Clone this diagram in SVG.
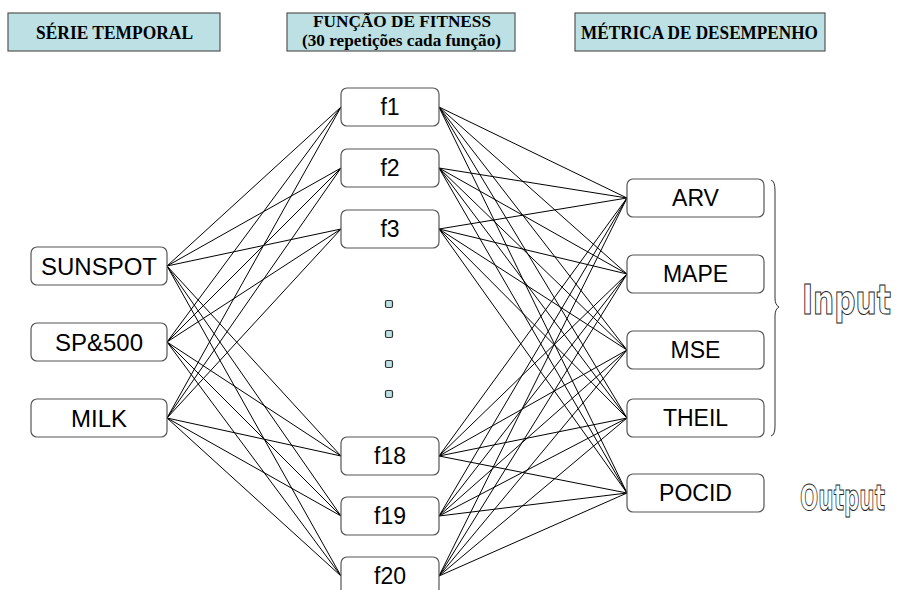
<svg xmlns="http://www.w3.org/2000/svg" width="898" height="590" viewBox="0 0 898 590">
<style>
.hdr{fill:#bce0e4;stroke:#555;stroke-width:1.2}
.ht{font-family:"Liberation Serif","Times New Roman",serif;font-weight:bold;font-size:18px;fill:#000}
.ht2{font-size:16.5px}
.node{fill:#fff;stroke:#555;stroke-width:1.2}
.nt{font-family:"Liberation Sans",Arial,sans-serif;fill:#000;text-anchor:middle}
.dot{fill:#bce0e4;stroke:#333;stroke-width:1.2}
.ol{font-family:"DejaVu Sans","Liberation Sans",sans-serif;font-stretch:condensed;font-weight:bold;fill:#fff;stroke:#222;stroke-width:1}
#connectors line{stroke:#000;stroke-width:1}
</style>
<g id="header-serie"><rect class="hdr" x="8" y="13" width="212" height="38"/><text class="ht" x="36" y="39" textLength="157" lengthAdjust="spacingAndGlyphs">SÉRIE TEMPORAL</text></g>
<g id="header-funcao"><rect class="hdr" x="287" y="13" width="228" height="38"/><text class="ht ht2" x="313" y="27" textLength="178" lengthAdjust="spacingAndGlyphs">FUNÇÃO DE FITNESS</text><text class="ht ht2" x="302" y="46" textLength="199" lengthAdjust="spacingAndGlyphs">(30 repetições cada função)</text></g>
<g id="header-metrica"><rect class="hdr" x="575" y="13" width="250" height="38"/><text class="ht" x="581" y="39" textLength="237" lengthAdjust="spacingAndGlyphs">MÉTRICA DE DESEMPENHO</text></g>

<g id="connectors">
<line x1="167" y1="266" x2="341" y2="107"/><line x1="167" y1="266" x2="341" y2="168"/><line x1="167" y1="266" x2="341" y2="229"/><line x1="167" y1="266" x2="341" y2="456"/><line x1="167" y1="266" x2="341" y2="516"/><line x1="167" y1="266" x2="341" y2="576"/>
<line x1="167" y1="342" x2="341" y2="107"/><line x1="167" y1="342" x2="341" y2="168"/><line x1="167" y1="342" x2="341" y2="229"/><line x1="167" y1="342" x2="341" y2="456"/><line x1="167" y1="342" x2="341" y2="516"/><line x1="167" y1="342" x2="341" y2="576"/>
<line x1="167" y1="418" x2="341" y2="107"/><line x1="167" y1="418" x2="341" y2="168"/><line x1="167" y1="418" x2="341" y2="229"/><line x1="167" y1="418" x2="341" y2="456"/><line x1="167" y1="418" x2="341" y2="516"/><line x1="167" y1="418" x2="341" y2="576"/>
<line x1="439" y1="107" x2="627" y2="198"/><line x1="439" y1="107" x2="627" y2="274"/><line x1="439" y1="107" x2="627" y2="350"/><line x1="439" y1="107" x2="627" y2="418"/><line x1="439" y1="107" x2="627" y2="493"/>
<line x1="439" y1="168" x2="627" y2="198"/><line x1="439" y1="168" x2="627" y2="274"/><line x1="439" y1="168" x2="627" y2="350"/><line x1="439" y1="168" x2="627" y2="418"/><line x1="439" y1="168" x2="627" y2="493"/>
<line x1="439" y1="229" x2="627" y2="198"/><line x1="439" y1="229" x2="627" y2="274"/><line x1="439" y1="229" x2="627" y2="350"/><line x1="439" y1="229" x2="627" y2="418"/><line x1="439" y1="229" x2="627" y2="493"/>
<line x1="439" y1="456" x2="627" y2="198"/><line x1="439" y1="456" x2="627" y2="274"/><line x1="439" y1="456" x2="627" y2="350"/><line x1="439" y1="456" x2="627" y2="418"/><line x1="439" y1="456" x2="627" y2="493"/>
<line x1="439" y1="516" x2="627" y2="198"/><line x1="439" y1="516" x2="627" y2="274"/><line x1="439" y1="516" x2="627" y2="350"/><line x1="439" y1="516" x2="627" y2="418"/><line x1="439" y1="516" x2="627" y2="493"/>
<line x1="439" y1="576" x2="627" y2="198"/><line x1="439" y1="576" x2="627" y2="274"/><line x1="439" y1="576" x2="627" y2="350"/><line x1="439" y1="576" x2="627" y2="418"/><line x1="439" y1="576" x2="627" y2="493"/>
</g>

<g id="sunspot"><rect class="node" x="31" y="247" width="136" height="38" rx="6"/><text class="nt" x="99" y="275" font-size="24">SUNSPOT</text></g>
<g id="sp500"><rect class="node" x="31" y="323" width="136" height="38" rx="6"/><text class="nt" x="99" y="351" font-size="24">SP&amp;500</text></g>
<g id="milk"><rect class="node" x="31" y="399" width="136" height="38" rx="6"/><text class="nt" x="99" y="427" font-size="24">MILK</text></g>

<g id="f1"><rect class="node" x="341" y="88" width="98" height="38" rx="6"/><text class="nt" x="390" y="115" font-size="23">f1</text></g>
<g id="f2"><rect class="node" x="341" y="149" width="98" height="38" rx="6"/><text class="nt" x="390" y="176" font-size="23">f2</text></g>
<g id="f3"><rect class="node" x="341" y="210" width="98" height="38" rx="6"/><text class="nt" x="390" y="237" font-size="23">f3</text></g>
<g id="ellipsis"><rect class="dot" x="385.5" y="300.5" width="7" height="7" rx="1.5"/><rect class="dot" x="385.5" y="330.5" width="7" height="7" rx="1.5"/><rect class="dot" x="385.5" y="360.5" width="7" height="7" rx="1.5"/><rect class="dot" x="385.5" y="390.5" width="7" height="7" rx="1.5"/></g>
<g id="f18"><rect class="node" x="341" y="437" width="98" height="38" rx="6"/><text class="nt" x="390" y="464" font-size="23">f18</text></g>
<g id="f19"><rect class="node" x="341" y="497" width="98" height="38" rx="6"/><text class="nt" x="390" y="524" font-size="23">f19</text></g>
<g id="f20"><rect class="node" x="341" y="557" width="98" height="38" rx="6"/><text class="nt" x="390" y="584" font-size="23">f20</text></g>

<g id="arv"><rect class="node" x="627" y="179" width="137" height="38" rx="6"/><text class="nt" x="695.5" y="206" font-size="23">ARV</text></g>
<g id="mape"><rect class="node" x="627" y="255" width="137" height="38" rx="6"/><text class="nt" x="695.5" y="282" font-size="23">MAPE</text></g>
<g id="mse"><rect class="node" x="627" y="331" width="137" height="38" rx="6"/><text class="nt" x="695.5" y="358" font-size="23">MSE</text></g>
<g id="theil"><rect class="node" x="627" y="399" width="137" height="38" rx="6"/><text class="nt" x="695.5" y="426" font-size="23">THEIL</text></g>
<g id="pocid"><rect class="node" x="627" y="474" width="137" height="38" rx="6"/><text class="nt" x="695.5" y="501" font-size="23">POCID</text></g>

<g id="brace"><path d="M771,180 Q775,181 775,191 L775,298 Q775,305 779,307 Q775,309 775,316 L775,426 Q775,435 771,436" fill="none" stroke="#333" stroke-width="1"/></g>
<g id="input-label"><text class="ol" x="802" y="314" font-size="40" textLength="89" lengthAdjust="spacingAndGlyphs">Input</text></g>
<g id="output-label"><text class="ol" x="800" y="510" font-size="36" textLength="85" lengthAdjust="spacingAndGlyphs">Output</text></g>
</svg>
